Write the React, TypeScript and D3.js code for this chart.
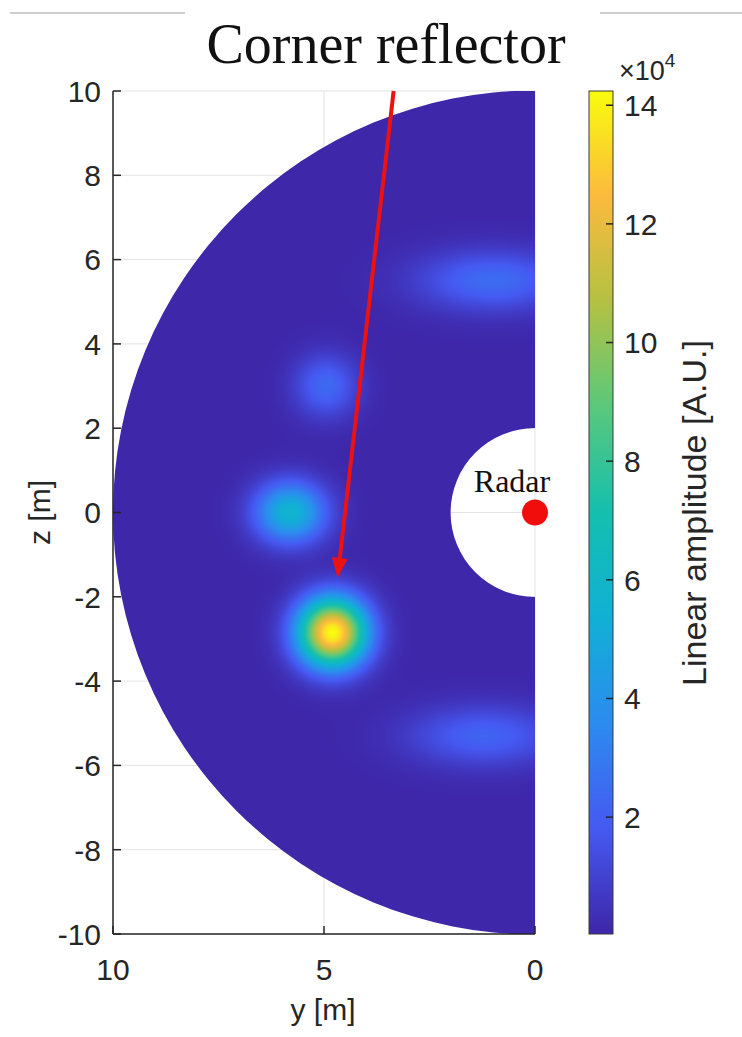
import React, { useMemo } from "react";
import * as d3 from "d3";

// ---- data ----
const yTicks = [10, 5, 0];
const zTicks = [-10, -8, -6, -4, -2, 0, 2, 4, 6, 8, 10];
const cbTicks = [2, 4, 6, 8, 10, 12, 14];
// reflections (y [m], z [m], amplitude [x1e4], sigma y, sigma z)
const blobY = [4.8, 5.8, 4.95, 1.0, 1.2];
const blobZ = [-2.85, 0.0, 3.0, 5.5, -5.3];
const blobAmp = [14.2, 5.7, 2.3, 2.4, 2.1];
const blobSy = [0.56, 0.58, 0.52, 1.25, 1.25];
const blobSz = [0.56, 0.5, 0.52, 0.5, 0.5];
const background = 0.05;
const colorMin = 0.03;
const colorMax = 14.24;
const outerRadius = 10;
const innerRadius = 2;
const arrowFrom = [3.35, 10.0];
const arrowTo = [4.68, -1.55];
const radarPos = [0, 0];

const parulaStops = [0, 0.125, 0.25, 0.375, 0.5, 0.625, 0.75, 0.875, 1];
const parulaColors = [
  "#3e26a8", "#4559f2", "#2c8bef", "#10b0d5", "#14bfae",
  "#5ac87c", "#b4c142", "#fbba3d", "#f9fb0e",
];

const W = 742, H = 1037;
const PL = 113, PR = 535, PT = 91, PB = 934;
const CBL = 589, CBR = 613;

export default function App() {
  const xS = d3.scaleLinear().domain([10, 0]).range([PL, PR]);
  const zS = d3.scaleLinear().domain([-10, 10]).range([PB, PT]);
  const cS = d3
    .scaleLinear<string>()
    .domain(parulaStops.map((s) => colorMin + s * (colorMax - colorMin)))
    .range(parulaColors)
    .interpolate(d3.interpolateRgb)
    .clamp(true);
  const cbS = d3.scaleLinear().domain([colorMin, colorMax]).range([PB, PT]);

  const href = useMemo(() => {
    const w = PR - PL, h = PB - PT;
    const cv = document.createElement("canvas");
    cv.width = w; cv.height = h;
    const ctx = cv.getContext("2d");
    if (!ctx) return "";
    const img = ctx.createImageData(w, h);
    for (let j = 0; j < h; j++) {
      const z = zS.invert(PT + j + 0.5);
      for (let i = 0; i < w; i++) {
        const y = xS.invert(PL + i + 0.5);
        let v = background;
        for (let k = 0; k < blobY.length; k++) {
          const dy = (y - blobY[k]) / blobSy[k];
          const dz = (z - blobZ[k]) / blobSz[k];
          v += blobAmp[k] * Math.exp(-0.5 * (dy * dy + dz * dz));
        }
        const c = d3.rgb(cS(v));
        const o = (j * w + i) * 4;
        img.data[o] = c.r; img.data[o + 1] = c.g; img.data[o + 2] = c.b; img.data[o + 3] = 255;
      }
    }
    ctx.putImageData(img, 0, 0);
    return cv.toDataURL();
  }, []);

  const cx = xS(0), cy = zS(0);
  const ro = xS(0) - xS(outerRadius);
  const ri = xS(0) - xS(innerRadius);
  const clipPath = `M${cx},${cy - ro} A${ro},${ro} 0 0 0 ${cx},${cy + ro} L${cx},${cy + ri} A${ri},${ri} 0 0 1 ${cx},${cy - ri} Z`;

  const ax1 = xS(arrowFrom[0]), ay1 = zS(arrowFrom[1]);
  const ax2 = xS(arrowTo[0]), ay2 = zS(arrowTo[1]);
  const ang = Math.atan2(ay2 - ay1, ax2 - ax1);
  const hl = 20, hw = 8;
  const bx = ax2 - hl * Math.cos(ang), by = ay2 - hl * Math.sin(ang);
  const head = `M${ax2},${ay2} L${bx + hw * Math.sin(ang)},${by - hw * Math.cos(ang)} L${bx - hw * Math.sin(ang)},${by + hw * Math.cos(ang)} Z`;

  const axisCol = "#262626";
  const font = "'Liberation Sans', Arial, sans-serif";
  const serif = "'Liberation Serif', 'Times New Roman', serif";
  const fs = 30;

  return (
    <svg width={W} height={H} style={{ position: "absolute", left: 0, top: 0, background: "#fff" }}>
      <defs>
        <clipPath id="half">
          <path d={clipPath} />
        </clipPath>
        <linearGradient id="cbg" x1="0" y1="1" x2="0" y2="0">
          {d3.range(0, 1.0001, 0.025).map((t) => (
            <stop key={t} offset={t} stopColor={cS(colorMin + t * (colorMax - colorMin))} />
          ))}
        </linearGradient>
      </defs>
      {/* decorative page lines */}
      <line x1={10} x2={185} y1={13} y2={13} stroke="#cfcfcf" strokeWidth={2} />
      <line x1={600} x2={742} y1={13} y2={13} stroke="#cfcfcf" strokeWidth={2} />
      {/* grid */}
      {zTicks.map((t) => (
        <line key={"gz" + t} x1={PL} x2={PR} y1={zS(t)} y2={zS(t)} stroke="#e3e3e3" strokeWidth={1} />
      ))}
      {yTicks.map((t) => (
        <line key={"gy" + t} x1={xS(t)} x2={xS(t)} y1={PT} y2={PB} stroke="#e3e3e3" strokeWidth={1} />
      ))}
      {/* heatmap */}
      <image href={href} x={PL} y={PT} width={PR - PL} height={PB - PT} clipPath="url(#half)" preserveAspectRatio="none" />
      {/* axes */}
      <line x1={PL} x2={PL} y1={PT} y2={PB} stroke={axisCol} strokeWidth={1.5} />
      <line x1={PL} x2={PR} y1={PB} y2={PB} stroke={axisCol} strokeWidth={1.5} />
      {zTicks.map((t) => (
        <g key={"tz" + t}>
          <line x1={PL} x2={PL + 8} y1={zS(t)} y2={zS(t)} stroke={axisCol} strokeWidth={1.5} />
          <text x={PL - 12} y={zS(t)} dy="0.36em" textAnchor="end" fontFamily={font} fontSize={fs} fill={axisCol}>{t}</text>
        </g>
      ))}
      {yTicks.map((t) => (
        <g key={"ty" + t}>
          <line x1={xS(t)} x2={xS(t)} y1={PB} y2={PB - 8} stroke={axisCol} strokeWidth={1.5} />
          <text x={xS(t)} y={PB + 46} textAnchor="middle" fontFamily={font} fontSize={fs} fill={axisCol}>{t}</text>
        </g>
      ))}
      <text x={323} y={1020} textAnchor="middle" fontFamily={font} fontSize={fs} fill={axisCol}>y [m]</text>
      <text transform={`translate(50,${zS(0)}) rotate(-90)`} textAnchor="middle" fontFamily={font} fontSize={fs} fill={axisCol}>z [m]</text>
      {/* title */}
      <text x={386} y={63} textAnchor="middle" fontFamily={serif} fontSize={56} fill="#111">Corner reflector</text>
      {/* radar */}
      <text x={512} y={492} textAnchor="middle" fontFamily={serif} fontSize={32} fill="#111">Radar</text>
      <circle cx={xS(radarPos[0])} cy={zS(radarPos[1])} r={13} fill="#f20d0d" />
      {/* arrow */}
      <line x1={ax1} y1={ay1} x2={bx} y2={by} stroke="#ee1111" strokeWidth={4} />
      <path d={head} fill="#ee1111" />
      {/* colorbar */}
      <rect x={CBL} y={PT} width={CBR - CBL} height={PB - PT} fill="url(#cbg)" stroke="#3a3a3a" strokeWidth={1} />
      {cbTicks.map((t) => (
        <g key={"cb" + t}>
          <line x1={CBR} x2={CBR - 7} y1={cbS(t)} y2={cbS(t)} stroke={axisCol} strokeWidth={1.5} />
          <text x={CBR + 11} y={cbS(t)} dy="0.36em" fontFamily={font} fontSize={fs} fill={axisCol}>{t}</text>
        </g>
      ))}
      <text x={619} y={80} fontFamily={font} fontSize={27} fill={axisCol}>
        ×10<tspan dy={-13} fontSize={19}>4</tspan>
      </text>
      <text transform={`translate(706,${513}) rotate(-90)`} textAnchor="middle" fontFamily={font} fontSize={34} fill={axisCol}>Linear amplitude [A.U.]</text>
    </svg>
  );
}
